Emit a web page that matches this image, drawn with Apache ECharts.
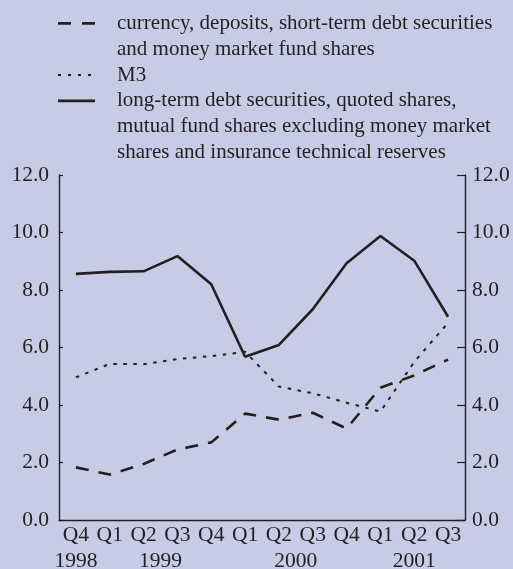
<!DOCTYPE html>
<html>
<head>
<meta charset="utf-8">
<script src="https://cdn.jsdelivr.net/npm/echarts@6/dist/echarts.min.js"></script>
<style>
  html, body { margin: 0; padding: 0; background: #c7cbe5; }
  #chart { width: 513px; height: 569px; }
</style>
</head>
<body>
<div id="chart"></div>
<script>
// quarters shown on the x axis, and the year each one belongs to
var quarters = ["Q4", "Q1", "Q2", "Q3", "Q4", "Q1", "Q2", "Q3", "Q4", "Q1", "Q2", "Q3"];
var yearOf = ["1998", "1999", "1999", "1999", "1999", "2000", "2000", "2000", "2000", "2001", "2001", "2001"];

var seriesNames = [
  "currency, deposits, short-term debt securities\nand money market fund shares",
  "M3",
  "long-term debt securities, quoted shares,\nmutual fund shares excluding money market\nshares and insurance technical reserves"
];

// annual percentage changes
var shortTerm = [1.83, 1.58, 1.95, 2.45, 2.7, 3.7, 3.49, 3.73, 3.18, 4.6, 5.03, 5.58];
var m3 = [4.96, 5.43, 5.42, 5.6, 5.7, 5.85, 4.64, 4.41, 4.08, 3.77, 5.5, 6.86];
var longTerm = [8.56, 8.63, 8.65, 9.18, 8.2, 5.68, 6.09, 7.33, 8.93, 9.88, 9.02, 7.07];

var yMin = 0, yMax = 12, yStep = 2;

var ink = "#231f20";
var font = "Liberation Serif";

// year label sits at the middle of its quarters
var yearCenters = {};
yearOf.forEach(function (y, i) {
  if (!yearCenters[y]) yearCenters[y] = [];
  yearCenters[y].push(i + 0.5);
});
var yearAt = {};
Object.keys(yearCenters).forEach(function (y) {
  var a = yearCenters[y];
  var c = a.reduce(function (s, v) { return s + v; }, 0) / a.length;
  yearAt[c.toFixed(1)] = y;
});

var dashes = [[13, 10], [3.5, 6.5], null];
var widths = [2.6, 2, 2.6];

// legend drawn by hand: icon beside the first line of each label
var legendGraphics = [];
var lineH = 25.8, top0 = 10.5, row = 0;
seriesNames.forEach(function (name, i) {
  var cy = top0 + row * lineH + lineH / 2;
  legendGraphics.push({
    type: "line",
    shape: { x1: 58, y1: cy, x2: 95, y2: cy },
    style: { stroke: ink, lineWidth: widths[i] + 0.2, lineDash: i === 0 ? [13, 11] : (i === 1 ? [3, 7] : null) }
  });
  legendGraphics.push({
    type: "text",
    x: 117,
    y: top0 + row * lineH,
    style: {
      text: name,
      fill: ink,
      font: "21px '" + font + "'",
      lineHeight: lineH,
      verticalAlign: "top"
    }
  });
  row += name.split("\n").length;
});

var chart = echarts.init(document.getElementById("chart"));

var labelStyle = { color: ink, fontFamily: font, fontSize: 21.5 };

var option = {
  backgroundColor: "#c7cbe5",
  animation: false,
  graphic: legendGraphics,
  grid: { left: 59, right: 48, top: 175, bottom: 49, containLabel: false, outerBoundsMode: "none" },
  xAxis: [
    {
      type: "category",
      data: quarters,
      boundaryGap: true,
      position: "bottom",
      axisLine: { onZero: false, lineStyle: { color: ink, width: 1.4 } },
      axisTick: { inside: true, length: 4, interval: 0, lineStyle: { color: ink, width: 1.2 } },
      axisLabel: Object.assign({ interval: 0, margin: 4 }, labelStyle)
    },
    {
      // taller ticks at the turn of each year
      type: "category",
      data: quarters,
      boundaryGap: true,
      position: "bottom",
      axisLine: { show: false, onZero: false },
      axisTick: {
        inside: true, length: 8,
        interval: function (i) { return i > 0 && yearOf[i] !== yearOf[i - 1]; },
        lineStyle: { color: ink, width: 1.2 }
      },
      axisLabel: { show: false }
    },
    {
      // year labels under the quarters
      type: "value",
      min: 0, max: quarters.length, interval: 0.5,
      position: "bottom",
      offset: 26,
      axisLine: { show: false, onZero: false },
      axisTick: { show: false },
      splitLine: { show: false },
      axisLabel: Object.assign({
        margin: 4,
        formatter: function (v) { return yearAt[v.toFixed(1)] || ""; }
      }, labelStyle)
    }
  ],
  yAxis: [
    {
      type: "value",
      position: "left",
      min: yMin, max: yMax, interval: yStep,
      axisLine: { show: true, lineStyle: { color: ink, width: 1.4 } },
      axisTick: { show: true, inside: true, length: 4, lineStyle: { color: ink, width: 1.2 } },
      splitLine: { show: false },
      axisLabel: Object.assign({ margin: 10, formatter: function (v) { return v.toFixed(1); } }, labelStyle)
    },
    {
      type: "value",
      position: "right",
      min: yMin, max: yMax, interval: yStep,
      axisLine: { show: true, lineStyle: { color: ink, width: 1.4 } },
      axisTick: { show: true, inside: true, length: 8, lineStyle: { color: ink, width: 1.2 } },
      splitLine: { show: false },
      axisLabel: Object.assign({ margin: 7, formatter: function (v) { return v.toFixed(1); } }, labelStyle)
    }
  ],
  series: [shortTerm, m3, longTerm].map(function (data, i) {
    return {
      name: seriesNames[i],
      type: "line",
      xAxisIndex: 0,
      yAxisIndex: 0,
      data: data,
      symbol: "none",
      lineStyle: { color: ink, width: widths[i], type: dashes[i] || "solid" }
    };
  })
};

chart.setOption(option);
</script>
</body>
</html>
